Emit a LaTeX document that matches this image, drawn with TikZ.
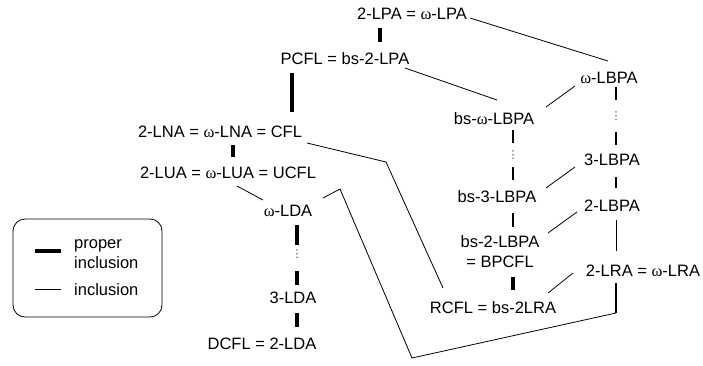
\documentclass[tikz,border=0pt]{standalone}
\usepackage{fontspec}
\setmainfont{Liberation Sans}
\newfontfamily\omfont{Liberation Serif}
\newfontfamily\dotfont{DejaVu Sans}
\newcommand{\om}{{\omfont ω}}
\usepackage{tikz}
\usetikzlibrary{positioning,calc}
\tikzset{cls/.style={inner sep=0pt,text height=12bp,text depth=0pt},
         proper/.style={line width=3.5bp},
         properm/.style={line width=2bp},
         incl/.style={line width=0.8bp}}

\begin{document}
\begin{tikzpicture}[x=1bp, y=-1bp, font=\fontsize{16.5bp}{20bp}\selectfont]
        \tikzstyle{dots}=[inner sep=0pt,text=black!70,font=\dotfont\fontsize{11bp}{11bp}\selectfont]
        \useasboundingbox (0,0) rectangle (703,365);
        % languages
        \node[cls] (lpa) at (412,13) {2-LPA = \om-LPA};
        \node[cls] (pcfl) at (345,58) {PCFL = bs-2-LPA};
        \node[cls] (lbpaw) at (609,77) {\om-LBPA};
        \node[cls] (bslbpaw) at (494,118) {bs-\om-LBPA};
        \node[cls] (lbpa3) at (612,159) {3-LBPA};
        \node[cls] (bslbpa3) at (497,196) {bs-3-LBPA};
        \node[cls] (lbpa2) at (612,205) {2-LBPA};
        \node[inner sep=0pt,align=center] (bslbpa2) at (500,252) {bs-2-LBPA\\= BPCFL};
        \node[cls] (lra) at (643,270) {2-LRA = \om-LRA};
        \node[cls] (rcfl) at (493,307) {RCFL = bs-2LRA};
        \node[cls] (lna) at (220,131) {2-LNA = \om-LNA = CFL};
        \node[cls] (lua) at (228,172) {2-LUA = \om-LUA = UCFL};
        \node[cls] (ldaw) at (288,210) {\om-LDA};
        \node[cls] (lda3) at (293,297) {3-LDA};
        \node[cls] (dcfl) at (262,343) {DCFL = 2-LDA};
        \node[dots] (dR) at (616,116) {⋮};
        \node[dots] (dB) at (513,155) {⋮};
        \node[dots] (dL) at (297,254) {⋮};
        % inclusions
        \path[proper] ([shift={(-32,15)}]lpa.center) edge ([shift={(35,-16)}]pcfl.center);
        \path[proper] ([shift={(-53,15)}]pcfl.center) edge ([shift={(72,-19)}]lna.center);
        \path[incl] ([shift={(58,5)}]lpa.center) edge ([shift={(-1,-16)}]lbpaw.center);
        \path[incl] ([shift={(60,10)}]pcfl.center) edge ([shift={(3,-18)}]bslbpaw.center);
        \path[incl] ([shift={(-34,9)}]lbpaw.center) edge ([shift={(52,-11)}]bslbpaw.center);
        \path[properm] ([shift={(7,10)}]lbpaw.center) edge ([shift={(0,-16)}]dR.center);
        \path[properm] ([shift={(0,16)}]dR.center) edge ([shift={(4,-14)}]lbpa3.center);
        \path[properm] ([shift={(4,18)}]lbpa3.center) edge ([shift={(4,-17)}]lbpa2.center);
        \path[incl] ([shift={(4,15)}]lbpa2.center) edge ([shift={(-27,-19)}]lra.center);
        \path[incl] ([shift={(-37,8)}]lbpa3.center) edge ([shift={(49,-8)}]bslbpa3.center);
        \path[incl] ([shift={(-35,7)}]lbpa2.center) edge ([shift={(48,-19)}]bslbpa2.center);
        \path[incl] ([shift={(-70,3)}]lra.center) edge ([shift={(55,-14)}]rcfl.center);
        \path[properm] ([shift={(19,12)}]bslbpaw.center) edge ([shift={(0,-12)}]dB.center);
        \path[properm] ([shift={(0,12)}]dB.center) edge ([shift={(16,-16)}]bslbpa3.center);
        \path[properm] ([shift={(16,17)}]bslbpa3.center) edge ([shift={(13,-25)}]bslbpa2.center);
        \path[proper] ([shift={(13,25)}]bslbpa2.center) edge ([shift={(20,-17)}]rcfl.center);
        \path[properm] ([shift={(-27,13)}]lra.center) edge coordinate[pos=1] (k1) ([shift={(-27,43)}]lra.center);
        \draw[incl,line join=miter] ([shift={(35,-12)}]ldaw.center) -- (340,189) -- (412,358) -- (k1);
        \draw[incl] ([shift={(87,12)}]lna.center) -- (386,162) -- ([shift={(-50,-19)}]rcfl.center);
        \path[proper] ([shift={(13,14)}]lna.center) edge ([shift={(5,-15)}]lua.center);
        \path[incl] ([shift={(9,14)}]lua.center) edge ([shift={(-25,-10)}]ldaw.center);
        \path[proper] ([shift={(9,15)}]ldaw.center) edge ([shift={(0,-9)}]dL.center);
        \path[proper] ([shift={(0,17)}]dL.center) edge ([shift={(4,-12)}]lda3.center);
        \path[proper] ([shift={(4,16)}]lda3.center) edge ([shift={(35,-16)}]dcfl.center);
        % legend
        \node[draw,incl,rounded corners=12bp,minimum width=149bp,minimum height=98bp] (legend) at (87.5,268) {};
        \node[inner sep=0pt,align=left,anchor=west] (legp) at (74,254) {proper\\inclusion};
        \node[cls,anchor=west] (legi) at (74,289) {inclusion};
        \coordinate (lp1) at (35,251);
        \coordinate (li1) at (35,289);
        \path[proper] (lp1) edge ([xshift=-13bp]legp.west |- lp1);
        \path[incl] (li1) edge ([xshift=-13bp]legi.west);
        \end{tikzpicture}
\end{document}
